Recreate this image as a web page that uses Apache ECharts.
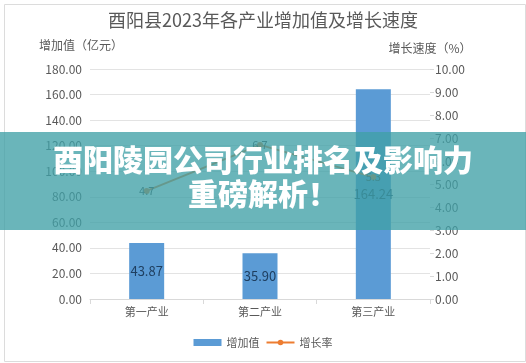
<!DOCTYPE html>
<html><head><meta charset="utf-8">
<script src="https://cdn.jsdelivr.net/npm/echarts@6/dist/echarts.min.js"></script>
<style>html,body{margin:0;padding:0;background:#fff}#c{width:526px;height:363px}</style>
</head><body><div id="c"></div>
<script>
const categories = ['第一产业', '第二产业', '第三产业'];
const addedValue = [43.87, 35.90, 164.24];
const growthRate = [4.7, 6.7, 5.3];
const titleText = '酉阳县2023年各产业增加值及增长速度';
const bannerLines = ['酉阳陵园公司行业排名及影响力', '重磅解析！'];

const chart = echarts.init(document.getElementById('c'));
const font = '"Noto Sans CJK SC", "DejaVu Sans", sans-serif';
chart.setOption({
  animation: false,
  textStyle: { fontFamily: font },
  title: { text: titleText, left: 'center', top: 6,
    textStyle: { fontSize: 18, fontWeight: 'normal', color: '#595959', fontFamily: font } },
  grid: { left: 90, right: 96, top: 69, bottom: 64 },
  legend: { bottom: 10, left: 'center', itemWidth: 28, itemHeight: 7, itemGap: 6,
    textStyle: { fontSize: 11, color: '#595959' },
    data: [{ name: '增加值', icon: 'rect' }, { name: '增长率' }] },
  xAxis: { type: 'category', data: categories,
    axisLine: { lineStyle: { color: '#d9d9d9' } },
    axisTick: { show: true, lineStyle: { color: '#d9d9d9' } },
    axisLabel: { color: '#595959', fontSize: 11, margin: 7 } },
  yAxis: [
    { type: 'value', min: 0, max: 180, interval: 20, name: '增加值（亿元）',
      nameLocation: 'end', nameGap: 18, nameTextStyle: { color: '#595959', fontSize: 12, align: 'center', padding: [0, 0, 0, -18] },
      axisLine: { show: false }, axisTick: { show: false },
      axisLabel: { color: '#595959', fontSize: 12, margin: 8, formatter: v => v.toFixed(2) },
      splitLine: { lineStyle: { color: '#e3e3e3' } } },
    { type: 'value', min: 0, max: 10, interval: 1, name: '增长速度（%）',
      nameLocation: 'end', nameGap: 15, nameTextStyle: { color: '#595959', fontSize: 12, align: 'center', padding: [0, 0, 0, 0] },
      axisLine: { show: false }, axisTick: { show: true, length: 4, lineStyle: { color: '#d9d9d9' } },
      axisLabel: { color: '#595959', fontSize: 12, margin: 5, formatter: v => v.toFixed(2) },
      splitLine: { show: false } }
  ],
  series: [
    { name: '增加值', type: 'bar', data: addedValue, barWidth: 35,
      itemStyle: { color: '#5b9bd5' },
      label: { show: true, position: 'inside', color: '#1f3f60', fontSize: 13, formatter: p => p.value.toFixed(2) } },
    { name: '增长率', type: 'line', yAxisIndex: 1, data: growthRate, z: 5,
      symbol: 'circle', symbolSize: 6,
      lineStyle: { color: '#ed7d31', width: 2 }, itemStyle: { color: '#ed7d31' },
      label: { show: true, position: 'inside', color: '#404040', fontSize: 11, formatter: p => p.value.toFixed(1) } }
  ],
  graphic: [
    { type: 'rect', left: 2, top: 2, z: 0, silent: true,
      shape: { width: 521, height: 357 }, style: { fill: 'none', stroke: '#dcdcdc', lineWidth: 1 } },
    { type: 'rect', left: 0, top: 132, z: 100,
      shape: { width: 526, height: 98 }, style: { fill: 'rgba(64,160,166,0.78)' } },
    { type: 'text', left: 'center', top: 145, z: 101,
      style: { text: bannerLines[0], fill: '#ffffff', font: '900 30px "Noto Sans CJK SC", sans-serif' } },
    { type: 'text', left: 'center', top: 179, z: 101,
      style: { text: bannerLines[1], fill: '#ffffff', font: '900 30px "Noto Sans CJK SC", sans-serif' } }
  ]
});
</script></body></html>
